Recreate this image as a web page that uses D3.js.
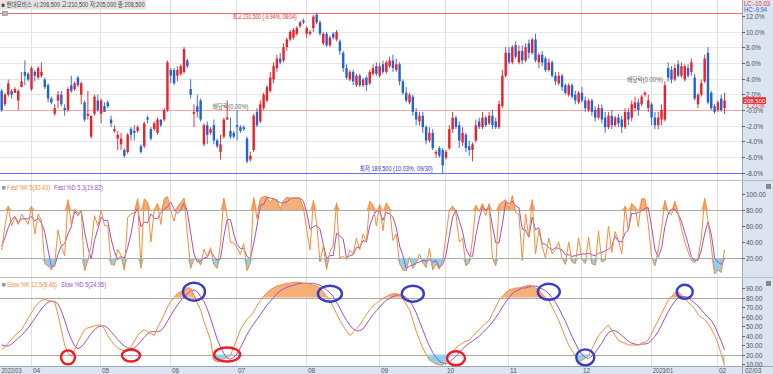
<!DOCTYPE html>
<html><head><meta charset="utf-8">
<script src="https://cdn.jsdelivr.net/npm/d3@7"></script>
<style>
body{margin:0;background:#fff;}
svg{display:block;font-family:"Liberation Sans","Noto Sans CJK KR",sans-serif;}
</style></head><body>
<svg id="c" width="773" height="374"></svg>
<script>
const headerText = "■ 현대모비스 시:206,500 고:210,500 저:205,000 종:208,500";
const basePrice = 206000;
const tradingDays = 219;
const opens  = [211000,207500,210000,211000,210500,208500,212000,216000,215500,211500,216000,214500,215000,214000,212500,209000,205000,208500,210000,206500,206000,212500,211500,214500,210000,208000,204500,199000,205000,208500,205000,207000,208000,203500,200500,198500,197000,195500,195000,201000,200500,200500,196500,196500,204000,201000,201000,200000,203500,203500,206000,216500,216500,215000,215500,216000,219000,211500,205000,207000,208500,197000,202000,200000,202000,198000,195000,199000,203500,200500,200000,202000,201500,201500,198500,
193000,195500,205500,203000,206500,208500,211000,214000,217000,219500,219000,222500,224500,225000,226000,228000,229500,226000,226000,227500,231000,229000,223500,226000,223000,226000,224500,224000,221000,217000,214000,216000,212500,215000,212500,214500,213000,215500,217500,215000,218000,216000,217500,219000,216500,218000,213500,210500,208000,209500,205500,203000,204500,201500,198000,200000,194500,196000,195500,193500,196000,201000,204000,202000,197500,199500,196500,195500,198000,203000,201500,204000,202500,204500,203000,201500,207000,215000,221000,218500,223000,218500,221500,219000,223500,221000,224500,218500,220500,219500,216500,218500,215000,213000,215000,212500,210000,212500,210000,208000,210500,208500,206000,208500,206000,204000,206500,204000,201500,204500,202000,204000,203500,201500,205500,204000,206500,208000,207500,210000,206500,207500,204000,202000,203500,203500,217000,216500,214000,218000,215000,214000,217000,216000,214500,207500,210000,213500,221000,210500,207000,206000,209000,206500];
const highs  = [211500,210500,214000,211500,212000,211500,216000,219000,216000,217500,216500,217500,218500,214500,213000,209500,207500,211000,211000,207500,212000,215000,213500,215000,213500,208500,211000,204500,210000,210000,209000,208000,208500,204500,202000,200500,200000,196000,200000,201500,202000,202000,197000,203000,204500,201500,203000,204000,203500,206500,219000,217000,217000,217500,218000,222500,219500,214000,207500,210000,209000,202500,203000,201500,203500,198500,199500,204000,208500,204000,200500,206000,202000,202000,199000,
195000,205000,206500,208500,210500,212500,216000,218500,220500,221000,223500,225000,227000,227500,228000,229500,230000,228000,227000,231000,231500,229500,226500,226500,225500,226500,227000,224500,221500,218000,216500,216500,215500,215500,214500,215000,216500,218000,218500,218500,219000,219000,220000,220500,219500,218500,214000,212000,210500,210000,206500,205500,205500,202000,201500,201000,195500,196500,196000,195500,202000,205500,204500,203000,201500,200000,198000,197500,203500,204000,205500,204500,205500,206000,204000,208500,216500,222500,222500,223000,224000,223000,223000,223500,224500,225000,226000,221000,221500,220000,219500,219000,216000,216000,215500,213000,213000,213000,211000,211000,212000,209500,209000,209000,207000,207500,207500,205500,205500,206000,204500,205000,204500,206500,206500,208500,209500,209000,210000,211000,210000,208000,205500,205500,207500,213500,218500,217500,218000,219000,218500,218000,218000,219500,215500,210500,214000,220500,222500,211000,207500,208500,210000,210500];
const lows   = [205500,207000,209500,209000,210500,206000,212000,212500,213500,211000,213500,214000,214500,211500,208000,207500,204500,206500,207000,204500,205500,210500,211000,212000,207500,203000,203500,198500,204500,205500,202500,205500,206500,201500,200000,195500,195500,193500,194500,198000,198000,200000,194500,196000,202500,198000,200500,199500,201500,203000,205500,213000,212500,213500,215000,215500,217000,209000,201500,204000,203000,196500,197000,199500,197000,196000,193000,198500,203500,198500,198500,198000,200000,200500,192000,
192500,195000,201500,202500,206000,208000,210500,213000,216000,218000,218500,221500,224000,224500,225500,227500,228500,225000,225500,226500,228500,225500,223000,222500,222500,224500,224000,220500,216000,214000,213500,212500,212000,212000,212000,211000,212500,215000,215000,214500,215500,215500,217000,216000,216000,212500,210000,208000,207500,204500,202000,202000,200000,197000,197500,195500,193500,193500,189500,193000,195500,200000,201000,196000,196500,195000,194000,192500,197500,201000,201000,201500,202000,201000,201000,201000,206500,214500,218000,218000,219500,218000,218000,218500,219500,220500,218500,217000,217500,216000,216000,214500,212500,212500,211000,210000,209500,209000,207500,207500,208000,205500,205500,204500,203000,203500,202500,200000,201000,201000,201500,201500,200000,201000,202000,203000,205500,204500,207000,209500,205500,202000,201000,201000,202000,203000,213500,213000,213500,214500,214500,213500,214500,215000,208500,206500,209500,213000,207500,206000,205000,205500,205500,205000];
const closes = [206000,210000,213000,210000,211500,211000,213500,215000,214000,217000,215000,217000,216000,212000,209000,208000,206500,210000,207500,206000,211500,211000,213000,212500,213000,203500,205000,204500,209500,206000,208500,205500,207000,202500,201000,199500,198500,194000,199500,199500,200000,201500,195000,202500,203500,198500,202500,203500,202000,206000,218500,215000,213000,216500,217500,222000,217500,210000,205500,205500,203500,202000,199500,201000,198000,196500,197000,203500,204000,199000,199000,201500,200500,201000,192500,
194000,204500,202000,207500,210000,212000,214500,217500,219500,218500,222500,224500,226500,227000,227500,229000,229000,227500,226500,230500,229000,226000,226000,223000,225000,225000,226500,221500,217000,214500,216000,213500,215000,212500,214000,212500,216000,217000,215500,217500,216000,218500,219000,217000,218000,213500,210500,208500,210000,205500,203500,204500,201500,198000,200000,196000,195000,194000,191500,195000,201000,204000,201500,198000,200000,196000,195500,197000,202000,201500,204000,202000,204500,202000,201500,207500,215000,221000,218500,222500,220000,221500,219000,222500,221000,224500,219000,220500,218500,216500,218500,215000,213500,215000,212000,210500,212500,209500,208500,210500,208500,206500,208500,205500,204000,206500,203500,201500,204500,202000,204000,202500,201500,205500,203500,207500,208000,206000,209500,210500,208500,204000,202000,204000,206000,212500,214500,214000,217000,215000,217500,217500,215000,218500,209000,210000,213000,219500,208000,206500,205500,208000,206000,208500];
const pctTicks = [12,10,8,6,4,2,0,-2,-4,-6,-8];
const monthLabels = ["2022/03","04","05","06","07","08","09","10","11","12","2023/01","02"];
const monthStartIdx = [0,9,30,51,71,92,114,134,153,175,196,216];
const highMark = {price:231500, idx:95, text:"최고 231,500 (-9.94%, 08/04)"};
const lowMark  = {price:189500, idx:133, text:"최저 189,500 (10.03%, 09/30)"};
const exDivIdx = [69, 194];
const exDivText = "배당락(0.00%)";
const lastPriceText = "208,500";
const lastPctText = "1.21%";
const fastTicks = [100,80,60,40,20];
const slowTicks = [90,80,70,60,50,40,30,20,10];
const fastK = [30,60,85,60,71,62,75,69,62,85,50,75,67,13,10,5,14,55,35,23,93,62,81,76,79,4,17,36,73,60,80,61,60,12,11,31,23,5,71,75,76,94,7,94,90,40,80,88,62,94,97,79,66,84,89,95,50,7,19,19,11,31,22,33,12,7,38,95,71,39,39,33,24,38,4,14,96,69,94,97,97,90,94,93,81,92,96,95,95,95,94,83,55,30,92,62,15,35,6,28,36,89,20,22,18,30,25,45,30,50,40,91,86,60,87,54,89,82,42,50,13,5,4,21,7,13,25,14,8,32,5,13,6,17,48,80,85,75,40,45,10,14,43,86,78,88,73,88,20,10,87,90,93,81,98,77,74,17,75,46,93,25,55,35,20,45,25,30,40,20,12,40,15,13,45,18,13,46,13,11,54,15,17,60,27,53,42,25,85,54,88,84,59,94,94,62,22,10,30,56,92,77,74,91,76,57,40,28,17,14,20,45,95,67,34,0,5,2,30.43];
const fastD = [35,45,58,68,72,64,69,69,69,72,66,70,64,52,30,9,10,25,35,38,50,59,79,73,79,53,33,19,42,56,71,67,67,44,28,18,22,20,33,50,74,82,59,65,64,75,70,69,77,81,84,90,81,76,80,89,78,51,25,15,16,20,21,29,22,17,19,47,68,68,50,37,32,32,22,19,38,60,86,87,96,95,94,92,89,89,90,94,95,95,95,91,77,56,59,61,56,37,19,23,23,51,48,44,20,23,24,33,33,42,40,60,72,79,78,67,77,75,71,58,35,23,7,10,11,14,15,17,16,18,15,17,8,12,24,48,71,80,67,53,32,23,22,48,69,84,80,83,60,39,39,62,90,88,91,85,83,56,55,46,71,55,58,38,37,33,30,33,32,30,24,24,22,23,24,25,25,26,24,23,26,27,29,31,35,47,41,40,51,55,76,75,77,79,82,83,59,31,21,32,59,75,81,81,75,66,52,38,22,17,17,30,50,65,50,20,15,12,19.82];
const slowK = [25,28,32,36,40,43,46,52,58,64,70,74,77,78,77,76,75,62,46,30,22,18,25,33,40,46,48,49,50,51,51,47,40,35,30,27,25,24,23,28,34,40,44,46,44,42,40,48,55,62,70,76,80,84,86,88,90,90,82,74,67,55,45,35,14,12,13,15,17,19,28,37,46,52,57,60,65,71,77,81,85,88,90,92,93,94,95,95,96,96,96,95,95,94,93,92,90,86,81,77,70,63,56,50,45,40,43,47,51,57,62,67,71,74,77,79,81,83,84,84,83,78,73,67,56,45,35,27,20,14,12,10,9,9,12,19,23,27,30,32,34,35,39,43,46,50,53,56,63,70,77,81,85,88,89,90,90,91,92,93,92,90,88,84,80,77,70,63,56,47,38,30,24,19,12,14,16,19,26,33,40,44,48,51,45,40,35,33,32,30,30,30,30,32,33,35,42,49,56,63,70,77,81,85,86,83,79,75,72,68,62,59,57,53,47,40,32,20,8.46];
const slowD = [30,29,29,31,34,37,40,44,48,53,58,63,68,72,75,76,76,73,66,56,45,36,29,26,28,32,37,42,46,49,50,50,48,44,40,36,32,29,27,26,27,30,34,38,42,44,44,44,45,49,55,61,67,72,77,81,84,87,88,86,81,76,68,58,47,36,28,21,16,15,17,21,27,34,41,47,52,57,62,67,72,76,80,84,87,89,91,92,93,94,95,95,95,95,95,94,93,91,88,85,81,75,69,62,56,51,47,45,45,47,52,57,62,66,70,74,77,79,81,82,83,82,80,77,71,64,55,46,37,29,22,17,13,11,10,12,15,18,22,26,29,32,34,37,39,43,46,50,54,59,64,70,75,80,84,87,88,90,90,91,92,92,91,89,87,84,80,75,69,62,55,47,39,32,25,20,17,16,18,22,27,32,38,43,45,45,43,40,37,34,32,31,30,31,31,32,35,39,44,51,58,65,71,76,80,81,81,80,77,74,71,67,63,59,56,50,42,34,24.95];
const ellipses = [
  {idx:20, v:17, rx:7, ry:7, c:"red"},{idx:39, v:19, rx:9, ry:6, c:"red"},{idx:68, v:20, rx:13, ry:7, c:"red"},{idx:137, v:16, rx:9, ry:7, c:"red"},
  {idx:58, v:86, rx:11, ry:9, c:"blue"},{idx:99, v:84, rx:12, ry:8, c:"blue"},{idx:124, v:84, rx:11, ry:8, c:"blue"},{idx:165, v:86, rx:11, ry:8, c:"blue"},{idx:176, v:17, rx:9, ry:8, c:"blue"},{idx:206, v:86, rx:8, ry:7, c:"blue"}
];

const svg = d3.select("#c");
const W = 773, H = 374, plotR = 742;
const P1 = {top:0, bot:180}, P2 = {top:180, bot:277}, P3 = {top:277, bot:366};
const font = 6.5;
function txt(sel, x, y, s, fill, len, anchor) {
  const t = sel.append("text").attr("x",x).attr("y",y).attr("font-size",font).attr("fill",fill).text(s);
  if (anchor) t.attr("text-anchor",anchor);
  if (len) t.attr("textLength",len).attr("lengthAdjust","spacingAndGlyphs");
  return t;
}

const x = d3.scaleBand().domain(d3.range(tradingDays)).range([0, 726.2]);
const cx = i => x(i) + x.bandwidth()/2;
const yP = d3.scaleLinear().domain([basePrice*0.92, basePrice*1.12]).range([110+8*7.85, 110-12*7.85]);
const yF = d3.scaleLinear().domain([20,100]).range([258,194]);
const yS = d3.scaleLinear().domain([10,90]).range([364,288]);

svg.append("rect").attr("x",plotR).attr("y",0).attr("width",W-plotR).attr("height",H).attr("fill","#dbe4f0");
svg.append("rect").attr("x",0).attr("y",P3.bot).attr("width",W).attr("height",H-P3.bot).attr("fill","#dbe4f0");
svg.append("line").attr("x1",plotR+0.5).attr("x2",plotR+0.5).attr("y1",0).attr("y2",H).attr("stroke","#9aa8b8");
svg.append("line").attr("x1",0).attr("x2",W).attr("y1",P3.bot+0.5).attr("y2",P3.bot+0.5).attr("stroke","#9aa8b8");

const g = svg.append("g");
monthStartIdx.slice(1).forEach(i=>{
  g.append("line").attr("x1",Math.round(cx(i))-0.5).attr("x2",Math.round(cx(i))-0.5).attr("y1",0).attr("y2",P3.bot).attr("stroke","#e2e2e2");
});
[P1.bot,P2.bot].forEach(yy=>{
  svg.append("line").attr("x1",0).attr("x2",W).attr("y1",yy+0.5).attr("y2",yy+0.5).attr("stroke","#b8c0cc");
});

pctTicks.forEach(p=>{
  const yy = Math.round(yP(basePrice*(1+p/100)))+0.5;
  if (p!==0 && p!==-8 && p!==12) g.append("line").attr("x1",0).attr("x2",plotR).attr("y1",yy).attr("y2",yy).attr("stroke","#e6e6e6");
  svg.append("line").attr("x1",plotR).attr("x2",plotR+3).attr("y1",yy).attr("y2",yy).attr("stroke","#666");
  txt(svg, plotR+4, yy+2.3, (p===0?"-0.0":p.toFixed(1))+"%", "#555");
});
const y0 = Math.round(yP(basePrice))+0.5;
svg.append("line").attr("x1",0).attr("x2",plotR).attr("y1",y0).attr("y2",y0).attr("stroke","#f7a9a9");
const yHi = Math.round(yP(highMark.price))+0.5, yLo = Math.round(yP(lowMark.price))+0.5;
svg.append("line").attr("x1",0).attr("x2",plotR).attr("y1",yHi).attr("y2",yHi).attr("stroke","#f26d6d");
svg.append("line").attr("x1",0).attr("x2",plotR).attr("y1",yLo).attr("y2",yLo).attr("stroke","#6b6cf0");
txt(svg, cx(highMark.idx)-20, yHi+5.5, highMark.text, "#e83030", 64, "end");
txt(svg, cx(lowMark.idx)-10, yLo-2.5, lowMark.text, "#3535c8", 73, "end");

const cg = svg.append("g");
closes.forEach((c,i)=>{
  const o=opens[i], up = c>=o, col = up? "#ec2128":"#2163d6";
  const xc = cx(i);
  cg.append("line").attr("x1",xc).attr("x2",xc).attr("y1",yP(highs[i])).attr("y2",yP(lows[i])).attr("stroke",col).attr("stroke-width",0.9);
  const top = yP(Math.max(o,c)), bot = yP(Math.min(o,c));
  cg.append("rect").attr("x",xc-1.2).attr("width",2.4).attr("y",top).attr("height",Math.max(1,bot-top)).attr("fill",col);
});
exDivIdx.forEach(i=>{
  txt(svg, cx(i), yP(highs[i])-9, exDivText, "#666", 36, "middle");
});

svg.append("rect").attr("x",0).attr("y",0).attr("width",146).attr("height",9.5).attr("fill","#e4e4e4");
txt(svg, 1.5, 7.2, headerText, "#444", 143);
svg.append("rect").attr("x",2.5).attr("y",11.5).attr("width",5).attr("height",4).attr("fill","#bbb").attr("stroke","#888").attr("stroke-width",0.6);
txt(svg, plotR+2, 5.5, "LC:-10.03", "#e83030", 26);
txt(svg, plotR+2, 11.5, "HC:-9.94", "#2a5bd8", 23);
const yLast = yP(closes[closes.length-1]);
svg.append("rect").attr("x",plotR+1).attr("y",yLast-3.2).attr("width",23).attr("height",6.6).attr("fill","#e8262b");
svg.append("text").attr("x",plotR+12.5).attr("y",yLast+2.2).attr("text-anchor","middle").attr("font-size",6).attr("fill","#fff").text(lastPriceText);
txt(svg, plotR+4, yLast+7.5, lastPctText, "#e83030");

function osc(K, D, ys, ticks, panel, lbl, lens) {
  const clipId = "clip"+panel.top;
  svg.append("clipPath").attr("id",clipId).append("rect").attr("x",0).attr("y",panel.top+1).attr("width",plotR).attr("height",panel.bot-panel.top-1);
  const pg = svg.append("g").attr("clip-path",`url(#${clipId})`);
  [80,20].forEach(v=>{
    pg.append("line").attr("x1",0).attr("x2",plotR).attr("y1",Math.round(ys(v))+0.5).attr("y2",Math.round(ys(v))+0.5).attr("stroke","#aaa");
  });
  const hi = d3.area().x((d,i)=>cx(i)).y0(ys(80)).y1(d=>ys(Math.max(d,80)));
  const lo = d3.area().x((d,i)=>cx(i)).y0(ys(20)).y1(d=>ys(Math.min(d,20)));
  pg.append("path").datum(K).attr("d",hi).attr("fill","#f5b07a");
  pg.append("path").datum(K).attr("d",lo).attr("fill","#8fd2ec");
  const ln = d3.line().x((d,i)=>cx(i)).y(d=>ys(d));
  pg.append("path").datum(D).attr("d",ln).attr("fill","none").attr("stroke","#a050c8").attr("stroke-width",1);
  pg.append("path").datum(K).attr("d",ln).attr("fill","none").attr("stroke","#f98c3a").attr("stroke-width",1);
  ticks.forEach(v=>{
    const yy = Math.round(ys(v))+0.5;
    svg.append("line").attr("x1",plotR).attr("x2",plotR+3).attr("y1",yy).attr("y2",yy).attr("stroke","#666");
    txt(svg, plotR+4, yy+2.3, v.toFixed(2), "#555");
  });
  svg.append("rect").attr("x",2).attr("y",panel.top+6).attr("width",3.5).attr("height",3.5).attr("fill","#999");
  txt(svg, 7, panel.top+10, lbl[0], "#f98c3a", lens[0]);
  txt(svg, 7+lens[0]+4, panel.top+10, lbl[1], "#a050c8", lens[1]);
  svg.append("rect").attr("x",766).attr("y",panel.top+4).attr("width",5).attr("height",5).attr("fill","#888");
}
osc(fastK, fastD, yF, fastTicks, P2, ["Fast %K 5(30.43)","Fast %D 5,3(19.82)"], [43,49]);
osc(slowK, slowD, yS, slowTicks, P3, ["Slow %K 12,5(8.46)","Slow %D 5(24.95)"], [50,45]);

ellipses.forEach(e=>{
  svg.append("ellipse").attr("cx",cx(e.idx)).attr("cy",yS(e.v)).attr("rx",e.rx).attr("ry",e.ry)
    .attr("fill","none").attr("stroke",e.c==="red"?"#ee1c24":"#3a3dc4").attr("stroke-width",2.4);
});

monthStartIdx.forEach((i,k)=>{
  const xx = k===0 ? 1.5 : Math.round(cx(i))+1;
  txt(svg, xx, 372.5, monthLabels[k], "#555", k===0?20:(k===10?20:null));
});
txt(svg, plotR+3, 372.5, "02/03", "#555");
</script>
</body></html>
